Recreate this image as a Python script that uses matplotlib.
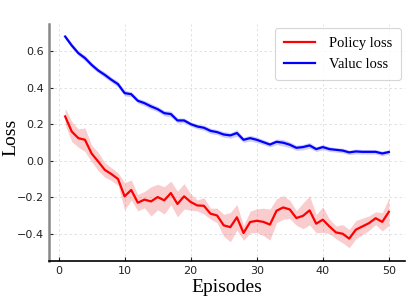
import numpy as np
import matplotlib
matplotlib.use("Agg")
import matplotlib.pyplot as plt

episodes = list(range(1, 51))

policy_loss = [0.243, 0.160, 0.124, 0.115, 0.040, -0.004, -0.050, -0.073, -0.100, -0.195,
               -0.160, -0.230, -0.213, -0.223, -0.199, -0.217, -0.177, -0.237, -0.195, -0.226,
               -0.245, -0.247, -0.290, -0.300, -0.354, -0.364, -0.310, -0.396, -0.336, -0.329,
               -0.335, -0.350, -0.274, -0.256, -0.267, -0.314, -0.302, -0.272, -0.345, -0.323,
               -0.360, -0.393, -0.400, -0.427, -0.378, -0.360, -0.342, -0.315, -0.335, -0.280]
policy_std = [0.045, 0.055, 0.050, 0.065, 0.045, 0.050, 0.040, 0.035, 0.035, 0.075,
              0.055, 0.045, 0.045, 0.080, 0.070, 0.075, 0.065, 0.070, 0.070, 0.045,
              0.030, 0.045, 0.030, 0.040, 0.060, 0.080, 0.070, 0.040, 0.060, 0.065,
              0.075, 0.085, 0.065, 0.065, 0.050, 0.040, 0.070, 0.080, 0.050, 0.070,
              0.040, 0.035, 0.050, 0.050, 0.050, 0.045, 0.040, 0.035, 0.050, 0.075]

value_loss = [0.681, 0.632, 0.590, 0.563, 0.526, 0.495, 0.471, 0.444, 0.420, 0.371,
              0.365, 0.329, 0.316, 0.298, 0.283, 0.261, 0.256, 0.221, 0.221, 0.201,
              0.188, 0.181, 0.164, 0.157, 0.144, 0.139, 0.152, 0.115, 0.124, 0.115,
              0.102, 0.089, 0.104, 0.099, 0.088, 0.071, 0.075, 0.084, 0.064, 0.075,
              0.064, 0.060, 0.056, 0.046, 0.051, 0.049, 0.049, 0.049, 0.040, 0.048]
value_std = [0.012, 0.014, 0.013, 0.015, 0.014, 0.013, 0.015, 0.014, 0.016, 0.015,
             0.014, 0.013, 0.015, 0.016, 0.014, 0.015, 0.016, 0.014, 0.013, 0.012,
             0.013, 0.014, 0.015, 0.014, 0.016, 0.015, 0.018, 0.014, 0.016, 0.015,
             0.014, 0.013, 0.015, 0.018, 0.016, 0.014, 0.015, 0.016, 0.013, 0.014,
             0.013, 0.012, 0.013, 0.012, 0.013, 0.012, 0.012, 0.012, 0.013, 0.012]

x = np.array(episodes)
p = np.array(policy_loss); ps = np.array(policy_std)
v = np.array(value_loss); vs = np.array(value_std)

fig = plt.figure(figsize=(4.15, 2.96), dpi=100)
ax = fig.add_axes([0.118, 0.118, 0.858, 0.801])

ax.fill_between(x, p - ps, p + ps, color="#e8383d", alpha=0.25, linewidth=0)
ax.fill_between(x, v - vs, v + vs, color="#3b3bd8", alpha=0.25, linewidth=0)
ax.plot(x, p, color="#ff0000", linewidth=1.6, label="Policy loss")
ax.plot(x, v, color="#0000ff", linewidth=1.6, label="Valuc loss")

ax.set_ylim(-0.55, 0.75)
ax.set_xticks([0, 10, 20, 30, 40, 50])
ax.set_yticks([-0.4, -0.2, 0.0, 0.2, 0.4, 0.6])
ax.grid(True, linestyle=(0, (3, 3)), color="#dddddd", linewidth=0.6)
ax.set_axisbelow(True)

for s in ["top", "right"]:
    ax.spines[s].set_visible(False)
ax.spines["left"].set_color("#888888")
ax.spines["left"].set_linewidth(1.8)
ax.spines["bottom"].set_color("#000000")
ax.spines["bottom"].set_linewidth(1.2)
ax.tick_params(direction="in", length=3, labelsize=8, colors="#222222")

ax.set_xlabel("Episodes", family="Liberation Serif", fontsize=14, labelpad=2)
ax.set_ylabel("Loss", family="Liberation Serif", fontsize=14)
ax.yaxis.set_label_coords(-0.082, 0.52)

leg = ax.legend(loc="upper right", prop={"family": "Liberation Serif", "size": 10.5},
                frameon=True, handlelength=2.1, handletextpad=1.0, borderpad=0.6,
                labelspacing=0.55, bbox_to_anchor=(0.989, 0.983), borderaxespad=0)
leg.get_frame().set_edgecolor("#cccccc")
leg.get_frame().set_linewidth(0.8)

fig.savefig("out.png", dpi=100)
